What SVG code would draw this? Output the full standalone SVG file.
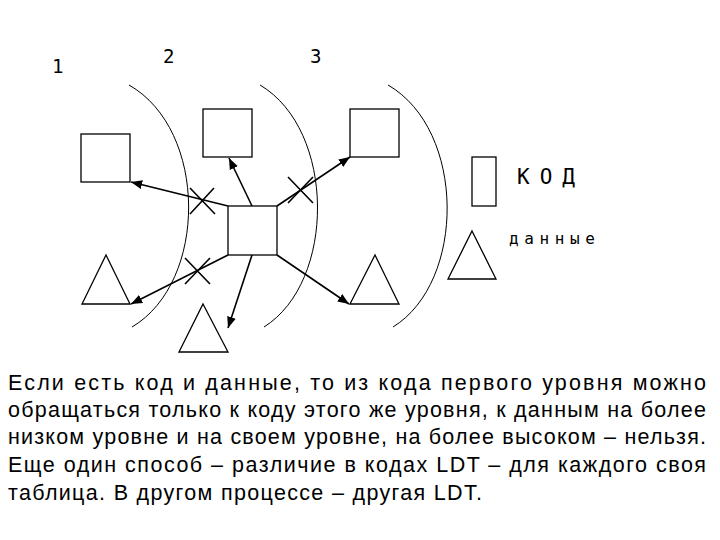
<svg xmlns="http://www.w3.org/2000/svg" width="720" height="540" viewBox="0 0 720 540">
<defs><marker id="ah" viewBox="0 0 10 10" refX="10" refY="5" markerWidth="7" markerHeight="7" orient="auto"><path d="M0,1 L10,5 L0,9 z" fill="#000"/></marker></defs>
<style>
.s{fill:#fff;stroke:#000;stroke-width:1.3}
.a{fill:none;stroke:#000;stroke-width:1}
.c{stroke:#000;stroke-width:1.6;fill:none;marker-end:url(#ah)}
.x{stroke:#000;stroke-width:1.6}
.t{font-family:"Liberation Sans",Arial,sans-serif;font-size:21.5px;fill:#000}
</style>
<rect width="720" height="540" fill="#fff"/>
<g id="labels" font-family="'DejaVu Sans Mono', monospace" fill="#000">
<text x="52" y="73" font-size="19">1</text>
<text x="163" y="63" font-size="19">2</text>
<text x="310" y="63" font-size="19">3</text>
</g>
<g id="arcs">
<path class="a" d="M129,85 C208,130 208,282 132,327"/>
<path class="a" d="M260,85 C336,130 336,282 264,327"/>
<path class="a" d="M388,85 C466,130 466,282 393,327"/>
</g>
<g id="connectors">
<line class="c" x1="228" y1="206" x2="131" y2="182"/>
<line class="c" x1="252" y1="206" x2="229" y2="158"/>
<line class="c" x1="277" y1="206" x2="350" y2="157"/>
<line class="c" x1="228" y1="255" x2="131" y2="304"/>
<line class="c" x1="252" y1="255" x2="228" y2="328"/>
<line class="c" x1="277" y1="255" x2="349" y2="304"/>
</g>
<g id="crosses">
<path class="x" d="M190,188 L215,214 M190,214 L214,188"/>
<path class="x" d="M185,258 L210,284 M185,284 L210,258"/>
<path class="x" d="M288,177 L313,203 M288,203 L313,177"/>
</g>
<g id="center"><rect class="s" x="228" y="206" width="49" height="49"/></g>
<g id="code1"><rect class="s" x="81" y="134" width="49" height="48"/></g>
<g id="code2"><rect class="s" x="203" y="109" width="49" height="48"/></g>
<g id="code3"><rect class="s" x="350" y="109" width="49" height="48"/></g>
<g id="data1"><polygon class="s" points="106,255 130,304 82,304"/></g>
<g id="data2"><polygon class="s" points="203,304 228,352 179,352"/></g>
<g id="data3"><polygon class="s" points="375,255 399,304 350,304"/></g>
<g id="legend-code"><rect class="s" x="472" y="157" width="24" height="49"/><text x="517" y="184" font-size="21" font-family="'DejaVu Sans Mono', monospace" textLength="58">КОД</text></g>
<g id="legend-data"><polygon class="s" points="472,231 496,279 448,279"/><text x="509" y="244" font-size="16" font-family="'DejaVu Sans Mono', monospace" textLength="86">данные</text></g>
<g id="para">
<text class="t" x="8" y="390" textLength="698" lengthAdjust="spacing">Если есть код и данные, то из кода первого уровня можно</text>
<text class="t" x="8" y="417" textLength="698" lengthAdjust="spacing">обращаться только к коду этого же уровня, к данным на более</text>
<text class="t" x="8" y="444" textLength="698" lengthAdjust="spacing">низком уровне и на своем уровне, на более высоком – нельзя.</text>
<text class="t" x="8" y="472" textLength="698" lengthAdjust="spacing">Еще один способ – различие в кодах LDT – для каждого своя</text>
<text class="t" x="8" y="500" textLength="474" lengthAdjust="spacing">таблица. В другом процессе – другая LDT.</text>
</g>
</svg>
